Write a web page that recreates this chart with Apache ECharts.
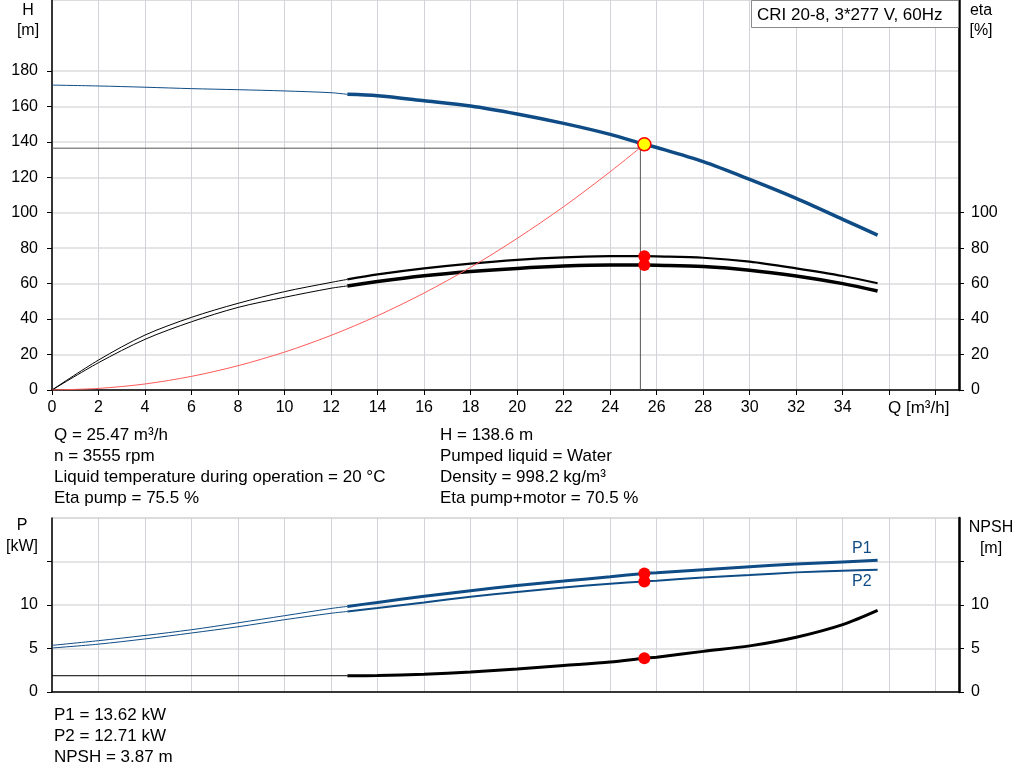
<!DOCTYPE html>
<html><head><meta charset="utf-8">
<script src="https://cdn.jsdelivr.net/npm/echarts@6/dist/echarts.min.js"></script>
<style>html,body{margin:0;padding:0;background:#fff}#c{width:1024px;height:781px}</style>
</head><body><div id="c"></div>
<script>
// ---------- data ----------
const qThin = [0, 2, 4, 6, 8, 10, 12, 12.7];
const qThick = [12.7, 14, 16, 18, 20, 22, 24, 25.47, 26, 28, 30, 32, 34, 35.5];

const hThin = [172.0, 171.5, 170.8, 170.0, 169.4, 168.7, 167.7, 166.8];
const hThick = [166.8, 166.0, 163.2, 160.2, 155.7, 150.4, 144.2, 138.6, 136.8, 128.8, 118.8, 108.1, 96.3, 87.4];

const etaPumpThin = [0, 16.9, 31.0, 41.0, 48.9, 55.5, 60.7, 62.4];
const etaPumpThick = [62.4, 65.2, 68.6, 71.3, 73.4, 74.8, 75.5, 75.5, 75.4, 74.6, 72.4, 68.6, 64.3, 60.2];
const etaTotThin = [0, 15.4, 28.6, 38.5, 46.6, 52.3, 57.4, 58.7];
const etaTotThick = [58.7, 61.2, 64.4, 66.8, 68.6, 69.9, 70.5, 70.5, 70.4, 69.6, 67.6, 64.3, 60.0, 55.8];

const qSys = [0, 2, 4, 6, 8, 10, 12, 14, 16, 18, 20, 22, 24, 25.47];
const hSys = [0, 0.9, 3.4, 7.7, 13.7, 21.4, 30.8, 41.9, 54.7, 69.2, 85.5, 103.4, 123.1, 138.6];

const p1Thin = [5.36, 5.9, 6.5, 7.16, 7.95, 8.77, 9.6, 9.84];
const p1Thick = [9.84, 10.3, 11.0, 11.65, 12.25, 12.75, 13.25, 13.62, 13.7, 14.06, 14.4, 14.7, 14.95, 15.13];
const p2Thin = [5.06, 5.5, 6.1, 6.78, 7.5, 8.31, 9.05, 9.26];
const p2Thick = [9.26, 9.65, 10.3, 10.95, 11.5, 12.0, 12.45, 12.71, 12.8, 13.15, 13.45, 13.75, 13.95, 14.06];

const qNpshThin = [0, 12.7];
const npshThin = [1.87, 1.87];
const npshThick = [1.87, 1.9, 2.05, 2.3, 2.65, 3.05, 3.45, 3.87, 4.0, 4.67, 5.3, 6.3, 7.75, 9.38];

const duty = { q: 25.47, h: 138.6, etaPump: 75.5, etaTot: 70.5, p1: 13.62, p2: 12.71, npsh: 3.87 };
const cross = { q: 25.3, h: 136.4 };

const xTickLabels = [0, 2, 4, 6, 8, 10, 12, 14, 16, 18, 20, 22, 24, 26, 28, 30, 32, 34];
const xTicks = [0, 2, 4, 6, 8, 10, 12, 14, 16, 18, 20, 22, 24, 26, 28, 30, 32, 34, 36, 38];
const hTickLabels = [0, 20, 40, 60, 80, 100, 120, 140, 160, 180];
const etaTickLabels = [0, 20, 40, 60, 80, 100];
const pTickLabels = [0, 5, 10];
const pTicks = [0, 5, 10, 15];

const infoLeft = ['Q = 25.47 m³/h', 'n = 3555 rpm', 'Liquid temperature during operation = 20 °C', 'Eta pump = 75.5 %'];
const infoRight = ['H = 138.6 m', 'Pumped liquid = Water', 'Density = 998.2 kg/m³', 'Eta pump+motor = 70.5 %'];
const infoBottom = ['P1 = 13.62 kW', 'P2 = 12.71 kW', 'NPSH = 3.87 m'];
const titleBox = 'CRI 20-8, 3*277 V, 60Hz';

// ---------- helpers ----------
const FONT = "'Liberation Sans', Arial, sans-serif";
const BLUE = '#0f4c86';
const zip = (xs, ys) => xs.map((x, i) => [x, ys[i]]);
function line(xi, yi, xs, ys, color, width, extra) {
  return Object.assign({
    type: 'line', xAxisIndex: xi, yAxisIndex: yi, data: zip(xs, ys),
    showSymbol: false, symbol: 'none', smooth: 0.3, silent: true,
    lineStyle: { color: color, width: width }, z: 3
  }, extra || {});
}
function dots(xi, yi, pts, size, color, border) {
  return {
    type: 'scatter', xAxisIndex: xi, yAxisIndex: yi, data: pts, symbolSize: size, silent: true,
    itemStyle: { color: color, borderColor: border || color, borderWidth: border ? 1.5 : 0, opacity: 1 }, z: 10
  };
}
const labelStyle = { color: '#000', fontSize: 16, fontFamily: FONT };

function xAxis(gi, showLabels) {
  return {
    type: 'value', gridIndex: gi, min: 0, max: 39, interval: 2,
    axisLine: { show: true, onZero: false, lineStyle: { color: '#000', width: 1.5 } },
    axisTick: { show: showLabels, length: 5, customValues: xTicks, lineStyle: { color: '#000' } },
    axisLabel: Object.assign({ show: showLabels, margin: 10, customValues: xTickLabels }, labelStyle),
    splitLine: { show: true, lineStyle: { color: '#d0d3d8', width: 1 } }
  };
}
function yAxis(gi, pos, max, interval, labels, ticks, split, lw, margin) {
  return {
    type: 'value', gridIndex: gi, position: pos, min: 0, max: max, interval: interval,
    axisLine: { show: true, lineStyle: { color: '#000', width: lw } },
    axisTick: { show: true, length: 5, customValues: ticks, lineStyle: { color: '#000' } },
    axisLabel: Object.assign({ margin: margin, customValues: labels }, labelStyle),
    splitLine: { show: split, lineStyle: { color: '#dcdcdc', width: 1.5 } }
  };
}
function txt(x, y, s, opts) {
  return {
    type: 'text', x: x, y: y, silent: true, z: 20,
    style: Object.assign({ text: s, fill: '#000', fontSize: 17, fontFamily: FONT, textVerticalAlign: 'middle', textAlign: 'left' }, opts || {})
  };
}

const graphics = [];
graphics.push({ type: 'rect', shape: { x: 751.5, y: 0.5, width: 207, height: 27 }, style: { fill: '#fff', stroke: '#8a8a8a', lineWidth: 1 }, z: 15, silent: true });
graphics.push(txt(757, 15, titleBox));
graphics.push(txt(28, 11, 'H', { textAlign: 'center', fontSize: 16 }));
graphics.push(txt(28, 31, '[m]', { textAlign: 'center', fontSize: 16 }));
graphics.push(txt(981, 11, 'eta', { textAlign: 'center', fontSize: 16 }));
graphics.push(txt(981, 31, '[%]', { textAlign: 'center', fontSize: 16 }));
graphics.push(txt(888, 408, 'Q [m³/h]'));
graphics.push(txt(22, 526, 'P', { textAlign: 'center', fontSize: 16 }));
graphics.push(txt(22, 547, '[kW]', { textAlign: 'center', fontSize: 16 }));
graphics.push(txt(991, 528, 'NPSH', { textAlign: 'center', fontSize: 16 }));
graphics.push(txt(991, 549, '[m]', { textAlign: 'center', fontSize: 16 }));
graphics.push(txt(852, 549, 'P1', { fill: BLUE, fontSize: 16 }));
graphics.push(txt(852, 582, 'P2', { fill: BLUE, fontSize: 16 }));
infoLeft.forEach((s, i) => graphics.push(txt(54, 435 + i * 21, s)));
infoRight.forEach((s, i) => graphics.push(txt(440, 435 + i * 21, s)));
infoBottom.forEach((s, i) => graphics.push(txt(54, 715 + i * 21, s)));

const option = {
  animation: false,
  backgroundColor: '#fff',
  textStyle: { fontFamily: FONT },
  grid: [
    { left: 52, top: 0, width: 907, height: 390, show: true, borderColor: '#b8b8b8', borderWidth: 1, backgroundColor: 'transparent' },
    { left: 52, top: 518, width: 907, height: 174, show: true, borderColor: '#b8b8b8', borderWidth: 1, backgroundColor: 'transparent' }
  ],
  xAxis: [xAxis(0, true), xAxis(1, false)],
  yAxis: [
    yAxis(0, 'left', 220, 20, hTickLabels, hTickLabels, true, 1.5, 14),
    yAxis(0, 'right', 220, 20, etaTickLabels, etaTickLabels, false, 2.5, 12),
    yAxis(1, 'left', 20, 5, pTickLabels, pTicks, true, 1.5, 14),
    yAxis(1, 'right', 20, 5, pTickLabels, pTicks, false, 2.5, 12)
  ],
  graphic: graphics,
  series: [
    // crosshair at duty point
    line(0, 0, [cross.q, cross.q], [0, duty.h - 1], '#555', 1, { smooth: false, z: 2 }),
    line(0, 0, [0, cross.q], [cross.h, cross.h], '#555', 1, { smooth: false, z: 2 }),
    // system curve
    line(0, 0, qSys, hSys, '#ff5a5a', 1, { z: 4 }),
    // H curve
    line(0, 0, qThin, hThin, BLUE, 1),
    line(0, 0, qThick, hThick, BLUE, 3.5),
    // efficiencies
    line(0, 1, qThin, etaPumpThin, '#000', 1),
    line(0, 1, qThick, etaPumpThick, '#000', 2.2),
    line(0, 1, qThin, etaTotThin, '#000', 1),
    line(0, 1, qThick, etaTotThick, '#000', 3.5),
    dots(0, 1, [[duty.q, duty.etaPump], [duty.q, duty.etaTot]], 12, '#ff0000'),
    dots(0, 0, [[duty.q, duty.h]], 13, '#ffff00', '#ff0000'),
    // power
    line(1, 2, qThin, p1Thin, BLUE, 1),
    line(1, 2, qThick, p1Thick, BLUE, 3),
    line(1, 2, qThin, p2Thin, BLUE, 1),
    line(1, 2, qThick, p2Thick, BLUE, 2),
    // NPSH
    line(1, 3, qNpshThin, npshThin, '#000', 1, { smooth: false }),
    line(1, 3, qThick, npshThick, '#000', 3),
    dots(1, 2, [[duty.q, duty.p1], [duty.q, duty.p2]], 12, '#ff0000'),
    dots(1, 3, [[duty.q, duty.npsh]], 12, '#ff0000')
  ]
};
const chart = echarts.init(document.getElementById('c'), null, { renderer: 'canvas' });
chart.setOption(option);
</script></body></html>
